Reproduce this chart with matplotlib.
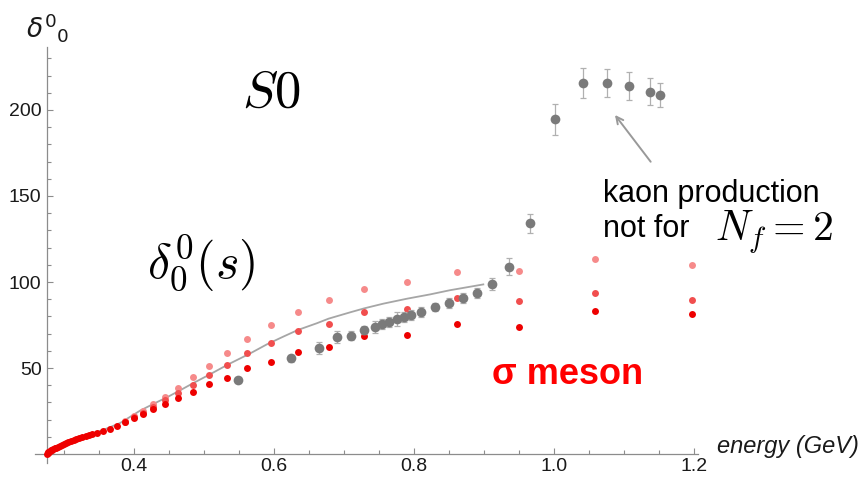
import matplotlib
matplotlib.use("Agg")
import matplotlib.pyplot as plt
from matplotlib.ticker import FixedLocator

plt.rcParams["font.family"] = ["Liberation Sans", "DejaVu Sans"]

# --- low-energy lattice points near threshold (all three series coincide) ---
e_thr = [0.2762, 0.2768, 0.2776, 0.2786, 0.2798, 0.2812, 0.2828, 0.2846, 0.2866,
         0.2888, 0.2912, 0.2938, 0.2966, 0.2996, 0.3028, 0.3062, 0.3098, 0.3136,
         0.3176, 0.3218, 0.3262, 0.3308, 0.3356, 0.3406, 0.3467, 0.3553, 0.3657,
         0.3761]
d_thr = [0.0, 0.6, 1.0, 1.4, 1.8, 2.2, 2.6, 3.0, 3.4,
         3.8, 4.3, 4.8, 5.2, 5.7, 6.2, 6.8, 7.4, 8.0,
         8.6, 9.2, 9.9, 10.5, 11.1, 11.6, 12.2, 13.4, 14.7,
         16.3]

# --- lattice phase shifts above threshold, three pion masses ---
e_lat = [0.3871, 0.3996, 0.4133, 0.4276, 0.4447, 0.4633, 0.4839, 0.5071, 0.5333,
         0.5619, 0.5957, 0.6343, 0.6786, 0.7290, 0.7896, 0.8619, 0.9500, 1.0590,
         1.1976]
d_dark = [18.4, 20.7, 23.1, 26.0, 28.9, 32.6, 36.0, 40.7, 44.4,
          50.0, 53.5, 59.5, 62.2, 68.4, 69.0, 75.4, 74.0, 83.0,
          81.6]
d_mid = [18.8, 21.3, 24.0, 27.5, 31.4, 35.6, 40.1, 46.1, 51.7,
         58.5, 64.4, 71.5, 75.6, 82.7, 84.3, 90.5, 88.7, 93.4,
         89.7]
d_pink = [19.2, 22.0, 25.0, 29.0, 33.3, 38.4, 44.6, 51.2, 58.9,
          66.7, 75.0, 82.7, 89.5, 96.1, 100.2, 106.0, 106.4, 113.2,
          110.1]

# --- experimental phase shifts with errors ---
e_exp = [0.5486, 0.6243, 0.6643, 0.6896, 0.7096, 0.7290, 0.7447, 0.7547, 0.7647,
         0.7753, 0.7853, 0.7957, 0.8104, 0.8304, 0.8504, 0.8704, 0.8904, 0.9110,
         0.9362, 0.9657, 1.0014, 1.0414, 1.0761, 1.1067, 1.1367, 1.1514]
d_exp = [42.8, 55.6, 61.8, 67.8, 68.8, 72.1, 73.7, 75.4, 76.6,
         78.3, 79.5, 80.8, 82.7, 85.5, 87.8, 90.9, 93.8, 99.0,
         108.9, 134.1, 194.6, 215.7, 215.7, 214.0, 210.7, 208.9]
err_exp = [1.0, 2.0, 3.5, 3.5, 2.5, 2.5, 3.5, 3.0, 3.0,
           4.0, 3.0, 3.0, 3.0, 2.5, 3.0, 3.0, 3.0, 3.5,
           5.0, 5.4, 9.1, 8.9, 8.1, 8.1, 8.1, 7.0]

# --- phenomenological curve ---
e_fit = [0.276, 0.290, 0.300, 0.315, 0.330, 0.343, 0.356, 0.368, 0.380, 0.394,
         0.409, 0.430, 0.450, 0.467, 0.484, 0.507, 0.535, 0.566, 0.590, 0.613,
         0.634, 0.661, 0.678, 0.709, 0.729, 0.756, 0.790, 0.823, 0.851, 0.875,
         0.899]
d_fit = [0.0, 4.0, 5.8, 8.2, 10.5, 12.2, 14.0, 16.0, 18.0, 21.5,
         25.3, 29.6, 33.6, 37.3, 41.1, 46.0, 52.2, 58.5, 63.8, 68.2,
         72.1, 76.0, 78.7, 82.4, 84.7, 87.4, 90.3, 92.8, 95.2, 96.9,
         98.6]

x_major = [0.4, 0.6, 0.8, 1.0, 1.2]
x_labels = ["0.4", "0.6", "0.8", "1.0", "1.2"]
y_major = [50, 100, 150, 200]
y_labels = ["50", "100", "150", "200"]

W, H = 868, 478
fig = plt.figure(figsize=(W / 100, H / 100), dpi=100)
ax = fig.add_axes([35 / W, 1 - 463 / H, (698 - 35) / W, (463 - 47) / H])
ax.set_xlim(0.2586, 1.2057)
ax.set_ylim(-5.2, 236.6)

axis_col = "#8c8c8c"
for side in ("top", "right"):
    ax.spines[side].set_visible(False)
ax.spines["left"].set_position(("data", 0.276))
ax.spines["bottom"].set_position(("data", 0))
for side in ("left", "bottom"):
    ax.spines[side].set_color(axis_col)
    ax.spines[side].set_linewidth(0.9)

ax.xaxis.set_major_locator(FixedLocator(x_major))
ax.set_xticklabels(x_labels)
ax.xaxis.set_minor_locator(FixedLocator(
    [0.30, 0.35, 0.45, 0.50, 0.55, 0.65, 0.70, 0.75, 0.85, 0.90, 0.95,
     1.05, 1.10, 1.15]))
ax.yaxis.set_major_locator(FixedLocator(y_major))
ax.set_yticklabels(y_labels)
ax.yaxis.set_minor_locator(FixedLocator(
    [10, 20, 30, 40, 60, 70, 80, 90, 110, 120, 130, 140, 160, 170, 180, 190,
     210, 220, 230]))
ax.tick_params(which="both", direction="in", color=axis_col, width=0.8,
               labelsize=14, labelcolor="#1a1a1a")
ax.tick_params(which="major", length=4.5)
ax.tick_params(which="minor", length=3)
ax.tick_params(axis="x", pad=3)
ax.tick_params(axis="y", pad=4)

# curve (underneath the lattice points)
ax.plot(e_fit, d_fit, "-", color="#a6a6a6", lw=1.3, zorder=2.5)

# lattice points
ms = 5.0
ax.plot(e_lat, d_pink, "o", color="#f68a8a", ms=ms, mec="none", zorder=3)
ax.plot(e_lat, d_mid, "o", color="#f14e4e", ms=ms, mec="none", zorder=3.1)
ax.plot(e_lat, d_dark, "o", color="#ee0000", ms=ms, mec="none", zorder=3.2)
ax.plot(e_thr, d_thr, "o", color="#ee0000", ms=ms, mec="none", zorder=3.2)

# experimental data
ax.errorbar(e_exp, d_exp, yerr=err_exp, fmt="o", color="#7a7a7a", ms=7.0,
            mec="none", ecolor="#b0b0b0", elinewidth=0.9, capsize=2.2,
            capthick=0.9, zorder=4)

# annotations
ax.text(0.5957, 209.9, r"$S0$", math_fontfamily="cm", fontsize=38,
        ha="center", va="center")
ax.text(0.4957, 111.0, r"$\delta_0^0(s)$", math_fontfamily="cm", fontsize=36,
        ha="center", va="center")
ax.text(1.0700, 146.5, "kaon production", fontsize=22, ha="left",
        va="baseline")
ax.text(1.0700, 126.0, "not for", fontsize=22, ha="left", va="baseline")
ax.text(1.2300, 129.0, r"$N_f = 2$", math_fontfamily="cm", fontsize=30,
        ha="left", va="center", clip_on=False)
ax.text(0.9114, 46.0, "σ meson", fontsize=26, fontweight="bold",
        color="#ff0000", ha="left", va="center")
ax.annotate("", xy=(1.0871, 197.1), xytext=(1.1381, 169.9),
            arrowprops=dict(arrowstyle="->,head_length=0.5,head_width=0.25",
                            color="#999999", lw=1.4, shrinkA=0, shrinkB=0))

# axis labels
ax.text(1.233, 4.5, "energy (GeV)", fontsize=17, style="italic",
        ha="left", va="center", clip_on=False, color="#1a1a1a")
fig.text(48 / W, 1 - 28 / H, r"$\delta^{0}{}_{0}$", math_fontfamily="dejavusans",
         fontsize=19, ha="center", va="center", color="#1a1a1a")

fig.savefig("out.png", dpi=100)
